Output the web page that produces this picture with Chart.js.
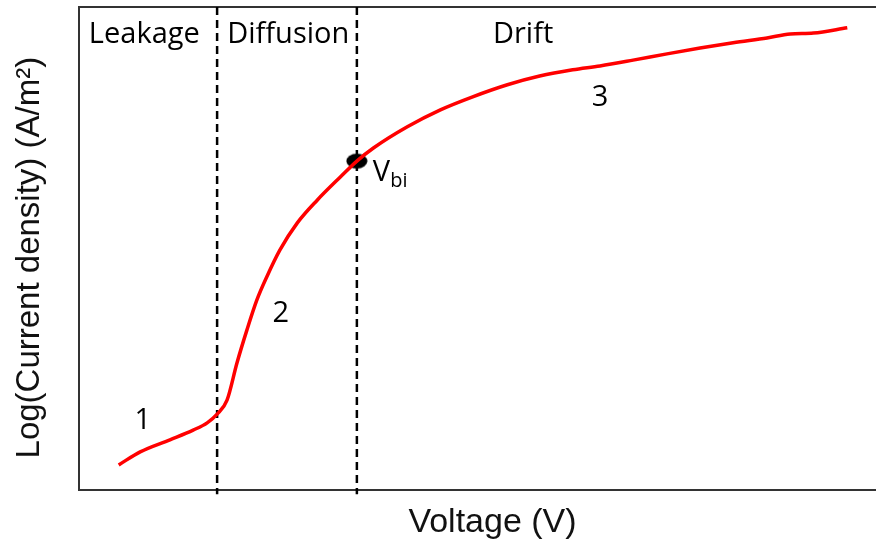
<!DOCTYPE html>
<html>
<head>
<meta charset="utf-8">
<title>Current density vs voltage</title>
<script src="https://cdn.jsdelivr.net/npm/chart.js@4/dist/chart.umd.min.js"></script>
<style>
  html, body { margin: 0; padding: 0; background: #ffffff; overflow: hidden; }
  #wrap { width: 876px; height: 545px; overflow: hidden; }
</style>
</head>
<body>
<!-- plot frame runs off the right edge, so the canvas is a bit wider than the page -->
<div id="wrap"><canvas id="jv" width="906" height="545"></canvas></div>
<script>
// ---------------- data (arbitrary units, 0-100 on both axes) ----------------
const voltage = [4.8, 7.4, 11.0, 13.8, 15.5, 16.7, 17.9, 19.1, 20.3, 21.5, 22.7, 24.3, 26.4, 28.8, 31.6,
                 33.6, 35.6, 39.7, 43.7, 47.6, 51.8, 55.7, 59.7, 63.0, 67.0, 71.1, 75.1, 79.1, 83.2, 86.0, 88.8, 92.9];
const logJ    = [5.2, 7.9, 10.4, 12.4, 13.9, 15.7, 18.6, 26.3, 33.1, 39.3, 44.1, 49.7, 55.3, 60.0, 64.8,
                 68.1, 70.8, 75.2, 78.7, 81.4, 83.9, 85.7, 87.0, 87.8, 89.0, 90.3, 91.5, 92.6, 93.6, 94.4, 94.6, 95.7];

// region boundaries and built-in voltage
const regionEdges = [16.7, 33.6];
const vbi = { x: 33.6, y: 68.1 };

// text placed on the plot (data coordinates)
const regionNames = ["Leakage", "Diffusion", "Drift"];
const regionNameX = [7.9, 25.3, 53.7];
const regionNameY = 94.2;
const stageNums = ["1", "2", "3"];
const stageX = [7.7, 24.4, 63.0];
const stageY = [14.3, 36.4, 81.2];

// ---------------- helpers ----------------
const points = voltage.map((v, i) => ({ x: v, y: logJ[i] }));

// black ellipse used as the Vbi marker
const dot = document.createElement('canvas');
dot.width = 22; dot.height = 17;
(function () {
  const c = dot.getContext('2d');
  c.fillStyle = '#000';
  c.beginPath();
  c.ellipse(11, 8.5, 10.5, 7.5, 0, 0, Math.PI * 2);
  c.fill();
})();

const edgeSets = regionEdges.map(x => ({
  type: 'line',
  data: [{ x: x, y: 100 }, { x: x, y: -0.9 }],
  borderColor: '#000',
  borderWidth: 2.5,
  borderDash: [8, 5],
  pointRadius: 0,
  clip: false
}));

// labels drawn on top of the plot area
const plotText = {
  id: 'plotText',
  afterDatasetsDraw(chart) {
    const { ctx, scales: { x, y } } = chart;
    ctx.save();
    ctx.fillStyle = '#000';
    ctx.textAlign = 'center';
    ctx.textBaseline = 'middle';
    ctx.font = '29px "Open Sans"';
    regionNames.forEach((t, i) => {
      ctx.fillText(t, x.getPixelForValue(regionNameX[i]), y.getPixelForValue(regionNameY));
    });
    stageNums.forEach((t, i) => {
      ctx.fillText(t, x.getPixelForValue(stageX[i]), y.getPixelForValue(stageY[i]));
    });
    // V with "bi" subscript next to the marker
    const px = x.getPixelForValue(vbi.x) + 16;
    const py = y.getPixelForValue(vbi.y) + 12;
    ctx.textAlign = 'left';
    ctx.font = '29px "Open Sans"';
    ctx.fillText('V', px, py);
    const w = ctx.measureText('V').width;
    ctx.font = '20px "Open Sans"';
    ctx.fillText('bi', px + w, py + 8);
    ctx.restore();
  }
};

const bare = { display: false, drawTicks: false };

new Chart(document.getElementById('jv'), {
  type: 'line',
  data: {
    datasets: [
      {
        label: 'J-V',
        data: points,
        borderColor: '#ff0000',
        borderWidth: 3.5,
        pointRadius: 0,
        cubicInterpolationMode: 'monotone'
      },
      ...edgeSets,
      {
        type: 'scatter',
        label: 'Vbi',
        data: [vbi],
        pointStyle: dot,
        pointRadius: 10
      }
    ]
  },
  options: {
    responsive: false,
    animation: false,
    layout: { autoPadding: false, padding: { left: 6, top: 7, right: 0, bottom: 0 } },
    plugins: {
      legend: { display: false },
      tooltip: { enabled: false }
    },
    scales: {
      x: {
        type: 'linear',
        min: 0, max: 100,
        grid: bare,
        ticks: { display: false },
        border: { color: '#333', width: 2 },
        title: {
          display: true,
          text: 'Voltage (V)',
          color: '#111',
          font: { family: 'Liberation Sans, Arial', size: 34 },
          padding: { top: 12.6, bottom: 1.6 }
        }
      },
      xTop: {
        type: 'linear',
        position: 'top',
        min: 0, max: 100,
        grid: bare,
        ticks: { display: false },
        border: { color: '#333', width: 2 }
      },
      y: {
        min: 0, max: 100,
        grid: bare,
        ticks: { display: false },
        border: { color: '#333', width: 2 },
        title: {
          display: true,
          // trailing spaces nudge the rotated title a little lower
          text: 'Log(Current density) (A/m²)\u00A0\u00A0',
          color: '#111',
          font: { family: 'Liberation Sans, Arial', size: 33 },
          padding: { top: 4, bottom: 29.4 }
        }
      }
    }
  },
  plugins: [plotText]
});
</script>
</body>
</html>
